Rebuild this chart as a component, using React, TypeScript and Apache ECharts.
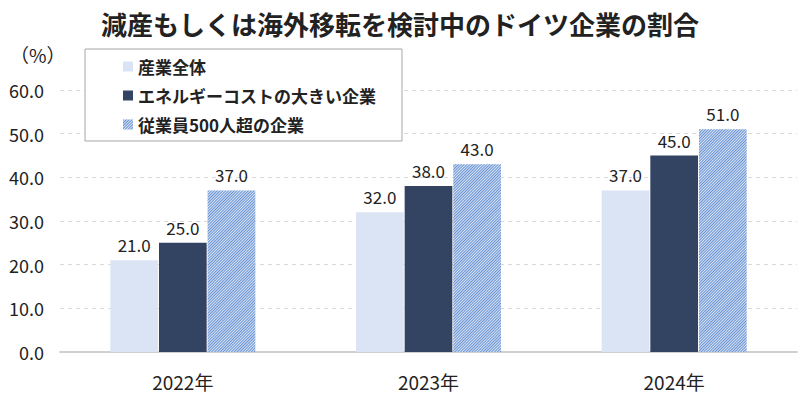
import React, { useEffect, useRef } from "react";
import * as echarts from "echarts";

const categories = ["2022年", "2023年", "2024年"];
const seriesNames = ["産業全体", "エネルギーコストの大きい企業", "従業員500人超の企業"];
const allIndustry = [21.0, 32.0, 37.0];
const energyIntensive = [25.0, 38.0, 45.0];
const over500 = [37.0, 43.0, 51.0];
const yTicks = { min: 0, max: 60, interval: 10 };

const FONT = "'Noto Sans CJK JP', 'Noto Sans', sans-serif";

export default function App() {
  const ref = useRef<HTMLDivElement>(null);
  useEffect(() => {
    const chart = echarts.init(ref.current!, null, { renderer: "svg" });
    const label = {
      show: true,
      position: "top" as const,
      distance: 7,
      fontSize: 17,
      color: "#222",
      fontFamily: FONT,
      formatter: (p: any) => Number(p.value).toFixed(1),
    };
    chart.setOption({
      animation: false,
      backgroundColor: "#fff",
      textStyle: { fontFamily: FONT },
      title: {
        text: "減産もしくは海外移転を検討中のドイツ企業の割合",
        left: "center",
        top: 5,
        textStyle: { fontSize: 26, fontWeight: "bold", color: "#222", fontFamily: FONT },
      },
      graphic: [
        {
          type: "text",
          left: 10,
          top: 45,
          style: { text: "（%）", fontSize: 19, fill: "#222", fontFamily: FONT },
        },
      ],
      legend: {
        orient: "vertical",
        left: 85,
        top: 49,
        padding: [9, 26, 8, 38],
        itemGap: 12,
        itemWidth: 10,
        itemHeight: 10,
        icon: "rect",
        borderColor: "#a6a6a6",
        borderWidth: 1,
        backgroundColor: "#fff",
        textStyle: { fontSize: 17, fontWeight: "bold", color: "#222", fontFamily: FONT },
        data: seriesNames,
      },
      grid: { left: 60, right: 3, top: 90, bottom: 47 },
      xAxis: {
        type: "category",
        data: categories,
        axisTick: { show: false },
        axisLine: { lineStyle: { color: "#d0d0d0", width: 2 } },
        axisLabel: { fontSize: 19, color: "#222", margin: 20, fontFamily: FONT },
      },
      yAxis: {
        type: "value",
        min: yTicks.min,
        max: yTicks.max,
        interval: yTicks.interval,
        axisLine: { show: false },
        axisTick: { show: false },
        axisLabel: {
          fontSize: 18,
          color: "#222",
          margin: 16,
          fontFamily: FONT,
          formatter: (v: number) => v.toFixed(1),
        },
        splitLine: { lineStyle: { color: "#d9d9d9", type: [4, 4] } },
      },
      series: [
        {
          name: seriesNames[0],
          type: "bar",
          data: allIndustry,
          barGap: "2%",
          barCategoryGap: "41%",
          itemStyle: { color: "#dae4f4" },
          label,
        },
        {
          name: seriesNames[1],
          type: "bar",
          data: energyIntensive,
          barGap: "2%",
          barCategoryGap: "41%",
          itemStyle: { color: "#334463" },
          label,
        },
        {
          name: seriesNames[2],
          type: "bar",
          data: over500,
          barGap: "2%",
          barCategoryGap: "41%",
          itemStyle: {
            color: "#d6e2f5",
            decal: {
              symbol: "rect",
              color: "#6a93d2",
              dashArrayX: [1, 0],
              dashArrayY: [1, 1],
              rotation: -Math.PI / 4,
              symbolSize: 1,
            },
          },
          label,
        },
      ],
    });
    return () => chart.dispose();
  }, []);
  return (
    <div
      ref={ref}
      style={{ position: "fixed", left: 0, top: 0, width: 800, height: 399 }}
    />
  );
}
